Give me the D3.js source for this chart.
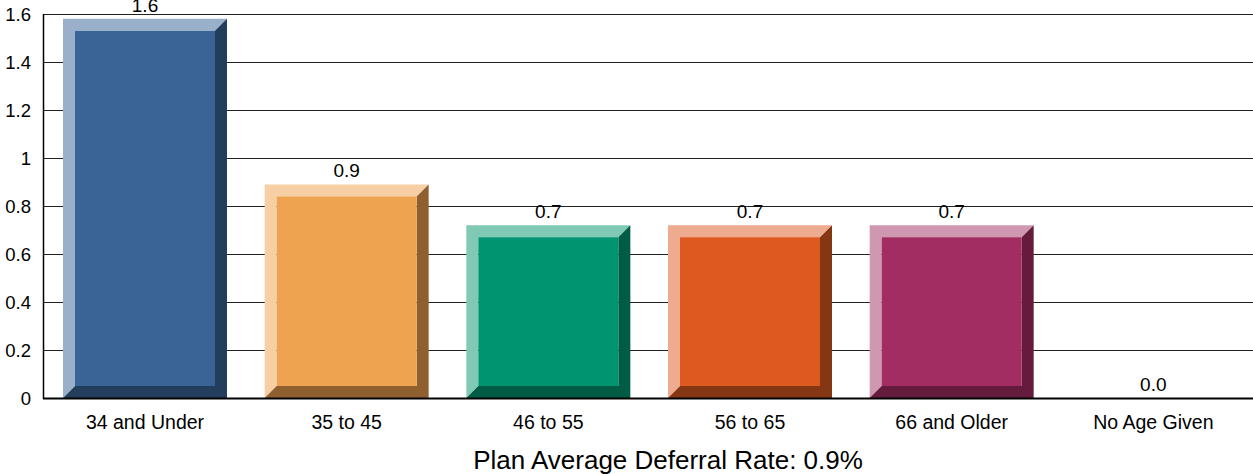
<!DOCTYPE html>
<html>
<head>
<meta charset="utf-8">
<script src="https://cdn.jsdelivr.net/npm/d3@7"></script>
<style>
  html, body { margin: 0; padding: 0; background: #fff; }
  svg { display: block; font-family: "Liberation Sans", Arial, Helvetica, sans-serif; }
</style>
</head>
<body>
<svg id="chart" width="1253" height="474"></svg>
<script>
// Average deferral rate by participant age group
const categories = ["34 and Under", "35 to 45", "46 to 55", "56 to 65", "66 and Older", "No Age Given"];
const rates = [1.58, 0.89, 0.72, 0.72, 0.72, 0.0];
const yTicks = [0, 0.2, 0.4, 0.6, 0.8, 1, 1.2, 1.4, 1.6];
const title = "Plan Average Deferral Rate: 0.9%";

// face / highlight / shadow per bar
const faceColors = ["#3A6496", "#EEA351", "#009470", "#DD5920", "#A22D62", "#888888"];
const lightColors = ["#9AAFC9", "#F6CFA5", "#80CAB5", "#EEAB8F", "#D097B0", "#cccccc"];
const darkColors = ["#233D5C", "#8F5F30", "#005C45", "#853613", "#641B3C", "#444444"];

const svg = d3.select("#chart");
const plotLeft = 43, plotRight = 1253, plotTop = 14, plotBottom = 398;
const fontFamily = "'Liberation Sans', Arial, sans-serif";

const x = d3.scaleBand().domain(categories).range([plotLeft, plotRight]).paddingInner(0).paddingOuter(0);
const y = d3.scaleLinear().domain([0, 1.6]).range([plotBottom, plotTop]);

// gridlines
svg.append("g").selectAll("line").data(yTicks.filter(d => d > 0)).join("line")
  .attr("x1", plotLeft).attr("x2", plotRight)
  .attr("y1", d => Math.round(y(d)) + 0.5).attr("y2", d => Math.round(y(d)) + 0.5)
  .attr("stroke", "#222").attr("stroke-width", 1);

// y axis
const yAxis = d3.axisLeft(y).tickValues(yTicks).tickSize(0).tickPadding(12)
  .tickFormat(d => d3.format("~g")(d));
const gy = svg.append("g").attr("transform", `translate(${plotLeft},0)`).call(yAxis);
gy.select(".domain").remove();
gy.selectAll("text").attr("font-size", 18.5).attr("fill", "#000")
  .attr("font-family", fontFamily).attr("dy", "0.36em");
svg.append("line").attr("x1", plotLeft + 0.5).attr("x2", plotLeft + 0.5).attr("y1", plotTop).attr("y2", plotBottom + 1)
  .attr("stroke", "#000").attr("stroke-width", 1.5);

// beveled bars
const bev = 12;
const padL = 20, barW = 164;
const bars = svg.append("g").selectAll("g").data(categories).join("g");
bars.each(function(c, i) {
  const v = rates[i];
  if (v <= 0) return;
  const g = d3.select(this);
  const x0 = x(c) + padL, x1 = x0 + barW;
  const y0 = y(v), y1 = y(0);
  g.append("polygon")
    .attr("points", [[x0, y1], [x0, y0], [x1, y0], [x1 - bev, y0 + bev], [x0 + bev, y0 + bev], [x0 + bev, y1 - bev]].join(" "))
    .attr("fill", lightColors[i]);
  g.append("polygon")
    .attr("points", [[x1, y0], [x1, y1], [x0, y1], [x0 + bev, y1 - bev], [x1 - bev, y1 - bev], [x1 - bev, y0 + bev]].join(" "))
    .attr("fill", darkColors[i]);
  g.append("rect")
    .attr("x", x0 + bev).attr("y", y0 + bev)
    .attr("width", barW - 2 * bev).attr("height", y1 - y0 - 2 * bev)
    .attr("fill", faceColors[i]);
});

// baseline
svg.append("line").attr("x1", plotLeft).attr("x2", plotRight).attr("y1", plotBottom + 0.5).attr("y2", plotBottom + 0.5)
  .attr("stroke", "#000").attr("stroke-width", 2);

// value labels
svg.append("g").selectAll("text").data(categories).join("text")
  .attr("x", c => x(c) + padL + barW / 2)
  .attr("y", (c, i) => y(rates[i]) - 7)
  .attr("text-anchor", "middle").attr("font-size", 19).attr("fill", "#000")
  .attr("font-family", fontFamily)
  .text((c, i) => d3.format(".1f")(rates[i]));

// category labels
const xAxis = d3.axisBottom(x).tickSize(0).tickPadding(18);
const gx = svg.append("g").attr("transform", `translate(0,${plotBottom})`).call(xAxis);
gx.select(".domain").remove();
gx.selectAll("text").attr("font-size", 19.5).attr("fill", "#000")
  .attr("font-family", fontFamily).attr("y", 31).attr("dy", 0);
gx.selectAll(".tick").attr("transform", d => `translate(${x(d) + padL + barW / 2},0)`);

// title
svg.append("text").attr("x", 668).attr("y", 469)
  .attr("text-anchor", "middle").attr("font-size", 26).attr("fill", "#000")
  .attr("font-family", fontFamily)
  .text(title);
</script>
</body>
</html>
